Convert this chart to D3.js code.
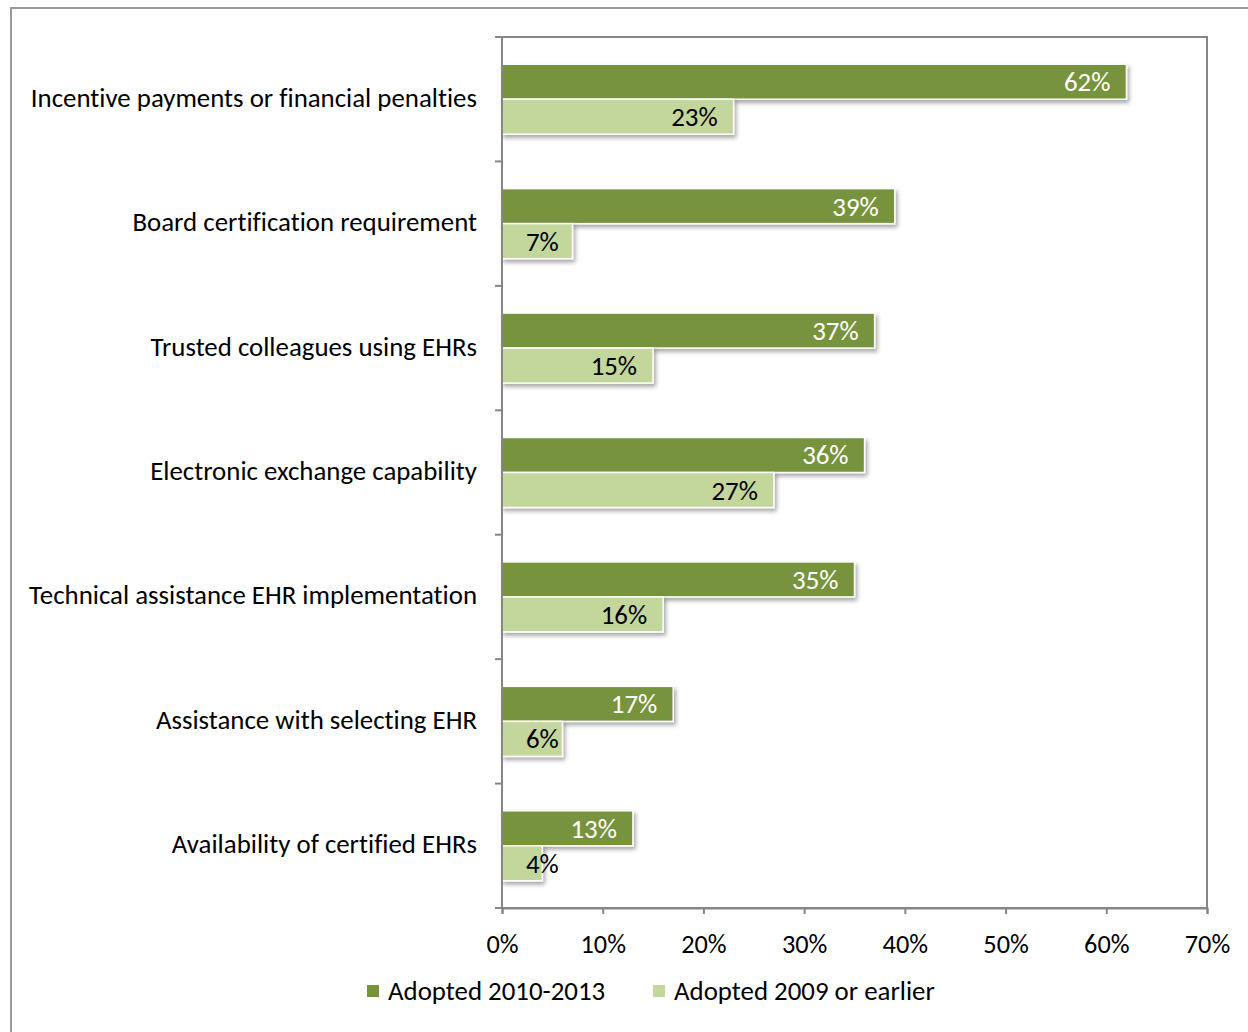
<!DOCTYPE html>
<html>
<head>
<meta charset="utf-8">
<script src="https://cdn.jsdelivr.net/npm/d3@7"></script>
<style>
  html, body { margin: 0; padding: 0; background: #fff; }
  svg { display: block; }
  text { font-family: Carlito, Calibri, Lato, "Open Sans", sans-serif; fill: #000;
         font-variant-ligatures: none; font-feature-settings: "liga" 0; }
</style>
</head>
<body>
<svg id="chart" width="1248" height="1032"></svg>
<script>
// Data
const categories = [
  "Incentive payments or financial penalties",
  "Board certification requirement",
  "Trusted colleagues using EHRs",
  "Electronic exchange capability",
  "Technical assistance EHR implementation",
  "Assistance with selecting EHR",
  "Availability of certified EHRs"
];
const seriesNames = ["Adopted 2010-2013", "Adopted 2009 or earlier"];
const adopted2010to2013 = [62, 39, 37, 36, 35, 17, 13];
const adopted2009orEarlier = [23, 7, 15, 27, 16, 6, 4];
const xTicks = [0, 10, 20, 30, 40, 50, 60, 70];

const colors = ["#77933C", "#C3D69B"];
const labelColors = ["#ffffff", "#000000"];

const svg = d3.select("#chart");

// Outer chart frame
svg.append("rect")
  .attr("x", 11).attr("y", 8).attr("width", 1260).attr("height", 1060)
  .attr("fill", "none").attr("stroke", "#9a9a9a").attr("stroke-width", 2);

const plot = { left: 502, top: 37, right: 1207, bottom: 908 };

const x = d3.scaleLinear().domain([0, 70]).range([plot.left, plot.right]);
const y0 = d3.scaleBand().domain(categories).range([plot.top, plot.bottom]).padding(0);
const y1 = d3.scaleBand().domain(seriesNames).range([0, y0.bandwidth()])
  .paddingInner(0).paddingOuter(0.777);

// Drop shadow for bars
const defs = svg.append("defs");
const f = defs.append("filter").attr("id", "shadow")
  .attr("x", "-10%").attr("y", "-30%").attr("width", "130%").attr("height", "180%");
f.append("feDropShadow").attr("dx", 2).attr("dy", 3).attr("stdDeviation", 2)
  .attr("flood-color", "#000").attr("flood-opacity", 0.35);

// Font fitting: scale text so the widest category label spans its measured width
const probe = svg.append("text").attr("font-size", 24).text(categories[4]);
const w = probe.node().getComputedTextLength();
probe.remove();
const k = 448 / w;
const fs = s => (s * k).toFixed(2) + "px";

// Plot area border
svg.append("rect")
  .attr("x", plot.left).attr("y", plot.top)
  .attr("width", plot.right - plot.left).attr("height", plot.bottom - plot.top)
  .attr("fill", "none").attr("stroke", "#868686").attr("stroke-width", 2);

// Bars
const rows = categories.map((c, i) => ({
  cat: c,
  vals: [adopted2010to2013[i], adopted2009orEarlier[i]]
}));

const groups = svg.selectAll("g.cat").data(rows).join("g")
  .attr("class", "cat")
  .attr("transform", d => `translate(0,${y0(d.cat)})`);

groups.selectAll("rect").data(d => d.vals.map((v, j) => ({ v, j }))).join("rect")
  .attr("x", x(0))
  .attr("y", d => y1(seriesNames[d.j]))
  .attr("width", d => x(d.v) - x(0))
  .attr("height", y1.bandwidth())
  .attr("fill", d => colors[d.j])
  .attr("stroke", "#fff").attr("stroke-width", 1.5)
  .attr("filter", "url(#shadow)");

// Value labels (inside end)
groups.selectAll("text.val").data(d => d.vals.map((v, j) => ({ v, j }))).join("text")
  .attr("class", "val")
  .attr("text-anchor", "end")
  .attr("dominant-baseline", "central")
  .attr("font-size", fs(24))
  .style("fill", d => labelColors[d.j])
  .attr("y", d => y1(seriesNames[d.j]) + y1.bandwidth() / 2)
  .text(d => d.v + "%")
  .each(function(d) {
    const tw = this.getComputedTextLength();
    const xe = Math.max(x(d.v) - 16, x(0) + 24 + tw);
    d3.select(this).attr("x", xe);
  });

// Y axis (category labels + ticks at band boundaries)
const yAxis = svg.append("g").attr("transform", `translate(${plot.left},0)`);
yAxis.append("line").attr("y1", plot.top).attr("y2", plot.bottom)
  .attr("stroke", "#868686").attr("stroke-width", 2);
const bounds = categories.map(c => y0(c)).concat([plot.bottom]);
yAxis.selectAll("line.tick").data(bounds).join("line")
  .attr("class", "tick")
  .attr("x1", -7).attr("x2", 0).attr("y1", d => d).attr("y2", d => d)
  .attr("stroke", "#868686").attr("stroke-width", 2);
yAxis.selectAll("text").data(categories).join("text")
  .attr("x", -25)
  .attr("y", d => y0(d) + y0.bandwidth() / 2 - 2)
  .attr("text-anchor", "end")
  .attr("dominant-baseline", "central")
  .attr("font-size", fs(24))
  .text(d => d);

// X axis
const xAxis = svg.append("g").attr("transform", `translate(0,${plot.bottom})`)
  .call(d3.axisBottom(x).tickValues(xTicks).tickFormat(d => d + "%").tickSize(6).tickPadding(20));
xAxis.select(".domain").attr("stroke", "#868686").attr("stroke-width", 2);
xAxis.selectAll(".tick line").attr("stroke", "#868686").attr("stroke-width", 2);
xAxis.selectAll(".tick text")
  .style("font-family", "Carlito, Calibri, Lato, 'Open Sans', sans-serif")
  .style("font-size", fs(23.5)).style("fill", "#000");

// Legend
const legendItems = [
  { name: seriesNames[0], color: colors[0], x: 367 },
  { name: seriesNames[1], color: colors[1], x: 653 }
];
const lg = svg.append("g").selectAll("g").data(legendItems).join("g")
  .attr("transform", d => `translate(${d.x},990)`);
lg.append("rect").attr("x", 0).attr("y", -5).attr("width", 12).attr("height", 12)
  .attr("fill", d => d.color);
lg.append("text").attr("x", 21).attr("y", 0)
  .attr("dominant-baseline", "central")
  .attr("font-size", fs(24))
  .text(d => d.name);
</script>
</body>
</html>
